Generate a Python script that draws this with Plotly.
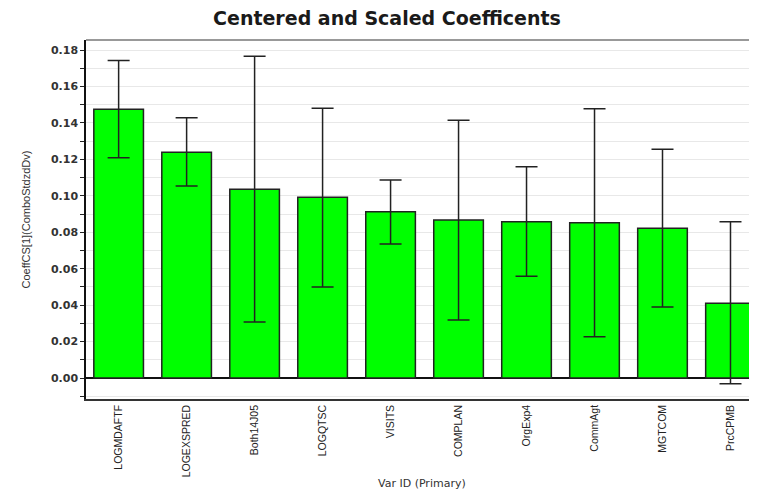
import plotly.graph_objects as go

categories = ["LOGMDAFTF", "LOGEXSPRED", "Both14J05", "LOGQTSC", "VISITS",
              "COMPLAN", "OrgExp4", "CommAgt", "MGTCOM", "PrcCPMB"]
coef = [0.1475, 0.1239, 0.1036, 0.0992, 0.0913, 0.0867, 0.0858, 0.0852, 0.0822, 0.0410]
err_hi = [0.1742, 0.1429, 0.1766, 0.1480, 0.1087, 0.1414, 0.1160, 0.1478, 0.1255, 0.0858]
err_lo = [0.1209, 0.1054, 0.0307, 0.0500, 0.0735, 0.0318, 0.0558, 0.0227, 0.0390, -0.0031]
y_ticks = [0.00, 0.02, 0.04, 0.06, 0.08, 0.10, 0.12, 0.14, 0.16, 0.18]
y_tick_text = ["0.00", "0.02", "0.04", "0.06", "0.08", "0.10", "0.12", "0.14", "0.16", "0.18"]

plus = [h - c for h, c in zip(err_hi, coef)]
minus = [c - l for l, c in zip(err_lo, coef)]

# the page body has an 8px default margin; the figure is sized to fill the rest
W, H = 749, 483
L, T, B = 78, 32, 92
plot_h = H - T - B
plot_w = W - L

fig = go.Figure()
fig.add_trace(go.Bar(
    x=categories, y=coef, width=0.73,
    marker=dict(color="#00FF00", line=dict(color="#222222", width=1.5)),
    error_y=dict(type="data", symmetric=False, array=plus, arrayminus=minus,
                 color="#222222", thickness=1.5, width=11),
    showlegend=False,
))

fig.update_layout(
    width=W, height=H,
    margin=dict(l=L, r=0, t=T, b=B, autoexpand=False),
    plot_bgcolor="white", paper_bgcolor="white",
    title=dict(text="Centered and Scaled Coefficents", x=379 / W, xanchor="center",
               y=1 - 10 / H, yanchor="middle", xref="container", yref="container",
               font=dict(family="DejaVu Sans", size=19, color="#1a1a1a", weight="bold")),
    xaxis=dict(
        range=[-0.48, 9.39], showline=True, linecolor="#333333", linewidth=1.5,
        ticks="", tickangle=-90, automargin=False,
        tickfont=dict(family="Liberation Sans", size=10.5, color="#222222"),
        showgrid=False,
    ),
    yaxis=dict(
        range=[-0.0115, 0.1855], tickmode="array", tickvals=y_ticks, ticktext=y_tick_text,
        ticks="outside", ticklen=4, tickwidth=1.2, tickcolor="#222222",
        showline=True, linecolor="#111111", linewidth=1.5, automargin=False,
        tickfont=dict(family="DejaVu Sans", size=11, color="#333333", weight="bold"),
        showgrid=True, gridcolor="#e8e8e8", gridwidth=1,
        zeroline=True, zerolinecolor="#111111", zerolinewidth=1.5,
        minor=dict(dtick=0.01, tick0=0, ticks="outside", ticklen=4, tickcolor="#222222",
                   showgrid=True, gridcolor="#e8e8e8", gridwidth=1),
    ),
    annotations=[
        dict(text="Var ID (Primary)", xref="paper", yref="paper",
             x=0.5, y=-(475 - 391) / plot_h, xanchor="center", yanchor="middle",
             showarrow=False, font=dict(family="DejaVu Sans", size=11, color="#333333")),
        dict(text="CoeffCS[1](ComboStdzdDv)", xref="paper", yref="paper",
             x=(17 - L) / plot_w, y=0.5, xanchor="center", yanchor="middle", textangle=-90,
             showarrow=False,
             font=dict(family="Liberation Sans Narrow, Liberation Sans", size=11, color="#333333")),
    ],
    shapes=[dict(type="line", xref="paper", yref="paper", x0=0, x1=1, y0=1, y1=1,
                 line=dict(color="#777777", width=1.5))],
)

fig.write_html("out.html")
